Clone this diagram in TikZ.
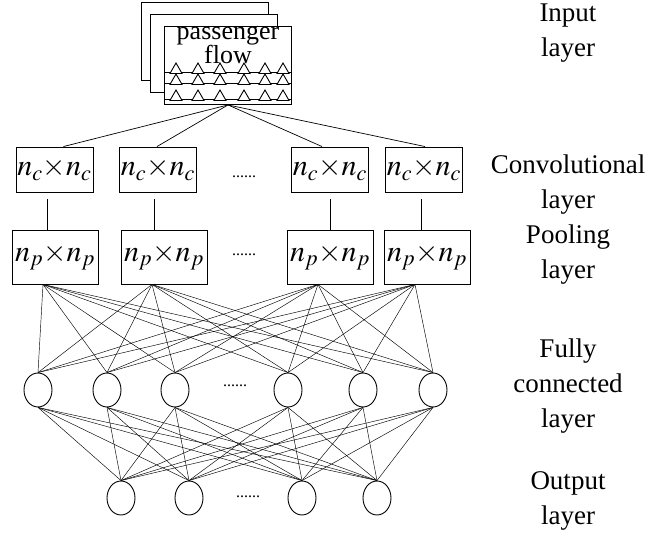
\documentclass[tikz,border=0pt]{standalone}
\usepackage{mathptmx}
\usepackage[no-math]{fontspec}
\setmainfont{Liberation Serif}
\usetikzlibrary{shapes.geometric}

\begin{document}
\begin{tikzpicture}[x=1pt, y=-1pt,
    layerbox/.style={draw, line width=0.9pt, fill=white, inner sep=0pt},
    conv/.style={layerbox, minimum width=77pt, minimum height=45pt, font=\fontsize{30}{30}\selectfont},
    pool/.style={layerbox, minimum width=86pt, minimum height=54pt, font=\fontsize{30}{30}\selectfont},
    neuron/.style={draw, ellipse, line width=0.9pt, minimum width=28pt, minimum height=34pt, inner sep=0pt},
    sheet/.style={layerbox, minimum width=127pt, minimum height=78pt},
    tri/.style={draw, regular polygon, regular polygon sides=3, fill=white, line width=0.9pt, inner sep=0pt, minimum size=14pt},
    caption/.style={align=center, font=\fontsize{27}{35}\selectfont},
    dots/.style={inner sep=0pt, font=\fontsize{16}{16}\selectfont},
    link/.style={line width=0.45pt}]

    \useasboundingbox (0,0) rectangle (657,534);

    % Input layer (stack of sheets)
    \node[sheet] (in3) at (205,41.5) {};
    \node[sheet] (in2) at (214,53) {};
    \node[sheet] (in) at (228,65.5) {};
    \node[align=center, font=\fontsize{26}{20}\selectfont] (flow) at (228,45) {passenger\\flow};
    \draw[line width=0.7pt] (in.west |- 0,72) -- (in.east |- 0,72);
    \draw[line width=0.7pt] (in.west |- 0,83) -- (in.east |- 0,83);
    \draw[line width=0.7pt] (in.west |- 0,99) -- (in.east |- 0,99);
    \foreach \r/\y in {1/70, 2/81, 3/97} {
        \foreach \c/\x in {1/176, 2/198, 3/220, 4/244, 5/265, 6/283} {
            \node[tri] (t\r\c) at (\x,\y) {};
        }
    }

    % Convolutional layer
    \node[conv] (c1) at (54.5,169.5) {$n_c{\times}n_c$};
    \node[conv] (c2) at (158,169.5) {$n_c{\times}n_c$};
    \node[dots] (cd) at (244,177) {......};
    \node[conv] (c3) at (330,169.5) {$n_c{\times}n_c$};
    \node[conv] (c4) at (424,169.5) {$n_c{\times}n_c$};

    % Pooling layer
    \node[pool] (p1) at (55,257) {$n_p{\times}n_p$};
    \node[pool] (p2) at (164,257) {$n_p{\times}n_p$};
    \node[dots] (pd) at (244,255) {......};
    \node[pool] (p3) at (330,257) {$n_p{\times}n_p$};
    \node[pool] (p4) at (427,257) {$n_p{\times}n_p$};

    % Fully connected layer
    \node[neuron] (f1) at (38,390) {};
    \node[neuron] (f2) at (107,390) {};
    \node[neuron] (f3) at (175,390) {};
    \node[dots] (fd) at (235,386) {......};
    \node[neuron] (f4) at (288,390) {};
    \node[neuron] (f5) at (363,390) {};
    \node[neuron] (f6) at (433,390) {};

    % Output layer
    \node[neuron] (o1) at (121,498) {};
    \node[neuron] (o2) at (189,498) {};
    \node[dots] (od) at (248,497) {......};
    \node[neuron] (o3) at (302,498) {};
    \node[neuron] (o4) at (377,498) {};

    % Captions
    \node[caption] (lin) at (568,33) {Input\\layer};
    \node[caption] (lconv) at (568,185) {Convolutional\\layer};
    \node[caption] (lpool) at (568,255) {Pooling\\layer};
    \node[caption] (lfc) at (568,386) {Fully\\connected\\layer};
    \node[caption] (lout) at (568,501) {Output\\layer};

    % Connections
    \path[draw, line width=0.7pt]
    (in.south) edge ([xshift=9pt]c1.north)
    (in.south) edge ([xshift=-1pt]c2.north)
    (in.south) edge ([xshift=-8pt]c3.north)
    (in.south) edge ([xshift=1pt]c4.north);
    \path[draw, line width=0.6pt, shorten <=7pt]
    ([xshift=-7pt]c1.south) edge ([xshift=-7pt]c1.south |- p1.north)
    ([xshift=-4pt]c2.south) edge ([xshift=-4pt]c2.south |- p2.north)
    (c3.south) edge (c3.south |- p3.north)
    ([xshift=-3pt]c4.south) edge ([xshift=-3pt]c4.south |- p4.north);
    \foreach \i in {1,...,4} {
        \foreach \j in {1,...,6} {
            \draw[link] ([xshift=-12pt]p\i.south) -- (f\j.north);
        }
    }
    \foreach \i in {1,...,6} {
        \foreach \j in {1,...,4} {
            \draw[link] (f\i.south) -- (o\j.north);
        }
    }

\end{tikzpicture}
\end{document}
